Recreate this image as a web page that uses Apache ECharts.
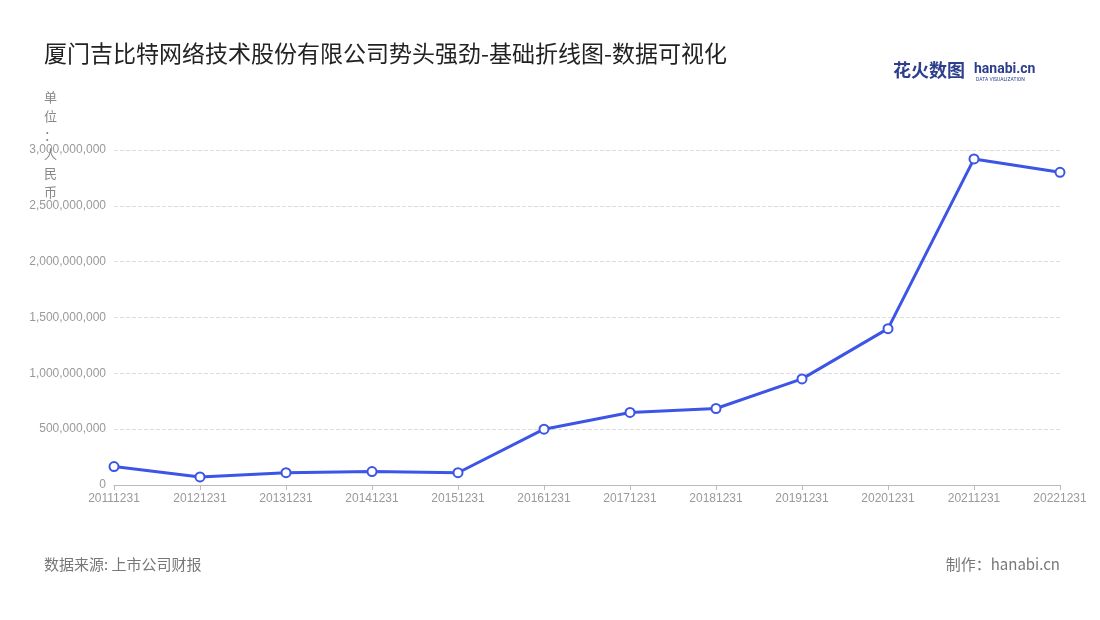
<!DOCTYPE html>
<html><head><meta charset="utf-8">
<script src="https://cdn.jsdelivr.net/npm/echarts@6/dist/echarts.min.js"></script>
<style>body{margin:0}#c{width:1100px;height:620px}</style></head>
<body><div id="c"></div>
<script>
const categories=['20111231','20121231','20131231','20141231','20151231','20161231','20171231','20181231','20191231','20201231','20211231','20221231'];
const values=[165000000,72000000,110000000,120000000,110000000,500000000,650000000,685000000,950000000,1400000000,2920000000,2800000000];
const ch=echarts.init(document.getElementById('c'));
ch.setOption({
  title:{text:'厦门吉比特网络技术股份有限公司势头强劲-基础折线图-数据可视化',left:39,top:37,textStyle:{fontSize:23,fontWeight:'normal',color:'#222',fontFamily:'Noto Sans CJK SC'}},
  graphic:[
    {type:'text',left:44,top:88,style:{text:'单\n位\n：\n人\n民\n币',fill:'#888',fontSize:13,lineHeight:19,fontFamily:'Noto Sans CJK SC'}},
    {type:'text',left:44,top:557,style:{text:'数据来源: 上市公司财报',fill:'#777',fontSize:15,fontFamily:'Noto Sans CJK SC'}},
    {type:'text',right:40,top:557,style:{text:'制作：hanabi.cn',fill:'#777',fontSize:15,fontFamily:'Noto Sans CJK SC'}},
    {type:'text',left:893,top:61,style:{text:'花火数图',fill:'#2c3e8c',fontSize:18,fontWeight:'bold',fontFamily:'Noto Sans CJK SC'}},
    {type:'text',left:974,top:62,style:{text:'hanabi.cn',fill:'#2c3e8c',fontSize:14,fontWeight:'bold',fontFamily:'Roboto'}},
    {type:'text',left:976,top:77,style:{text:'DATA VISUALIZATION',fill:'#2c3e8c',fontSize:5,fontFamily:'Roboto'}}
  ],
  grid:{left:114,right:40,top:150,bottom:135},
  xAxis:{type:'category',data:categories,boundaryGap:false,axisLine:{lineStyle:{color:'#bbb'}},axisTick:{show:true,lineStyle:{color:'#bbb'}},axisLabel:{color:'#999',fontSize:12,interval:0}},
  yAxis:{type:'value',min:0,max:3000000000,interval:500000000,axisLabel:{color:'#999',fontSize:12,formatter:v=>v.toLocaleString('en-US')},splitLine:{lineStyle:{type:'dashed',color:'#ddd'}},axisLine:{show:false},axisTick:{show:false}},
  series:[{type:'line',data:values,symbol:'circle',symbolSize:9,itemStyle:{color:'#fff',borderColor:'#3c55e6',borderWidth:2},lineStyle:{color:'#3c55e6',width:3}}]
});
</script></body></html>
